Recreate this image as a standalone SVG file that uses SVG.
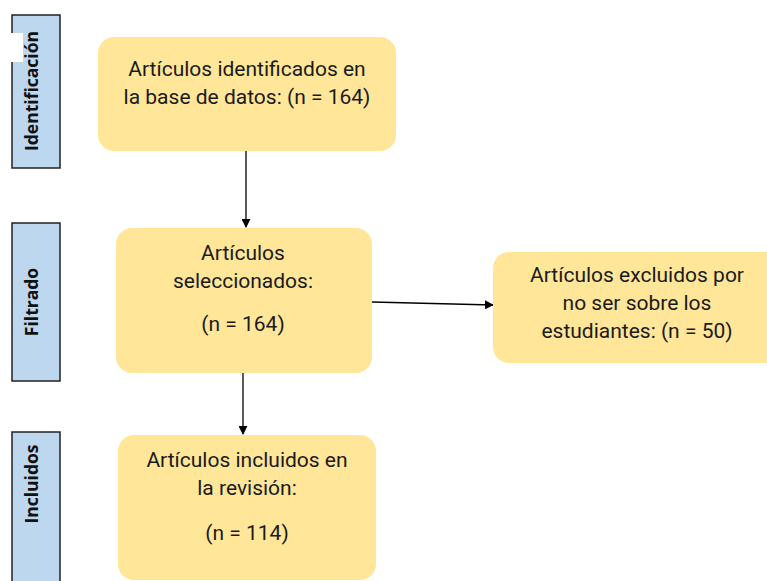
<svg xmlns="http://www.w3.org/2000/svg" width="767" height="581" viewBox="0 0 767 581">
<defs>
<marker id="ah" viewBox="0 0 10 10" refX="9" refY="5" markerWidth="9" markerHeight="9" markerUnits="userSpaceOnUse" orient="auto">
<path d="M0,0 L10,5 L0,10 z" fill="#000"/>
</marker>
<style>
.side{fill:#BDD7EE;stroke:#222;stroke-width:1.5}
.sidet{font-family:"Open Sans","Noto Sans",sans-serif;font-weight:bold;font-size:17.5px;fill:#111;text-anchor:middle}
.box{fill:#FFE699}
.t{font-family:Roboto,"Liberation Sans",sans-serif;font-size:21px;fill:#1a1a1a;text-anchor:middle}
.c{stroke:#000;stroke-width:1.3;fill:none;marker-end:url(#ah)}
</style>
</defs>
<rect width="767" height="581" fill="#fff"/>
<g id="side-identificacion">
<rect class="side" x="12" y="15" width="48" height="153"/>
<rect x="11" y="33" width="12" height="29" fill="#fff"/>
<text class="sidet" transform="translate(38,91) rotate(-90)">Identificación</text>
</g>
<g id="side-filtrado">
<rect class="side" x="12" y="223" width="48" height="158"/>
<text class="sidet" transform="translate(38,302) rotate(-90)">Filtrado</text>
</g>
<g id="side-incluidos">
<rect class="side" x="12" y="432" width="48" height="160"/>
<text class="sidet" transform="translate(38,484) rotate(-90)">Incluidos</text>
</g>
<g id="connectors">
<line class="c" x1="246" y1="151" x2="246" y2="227"/>
<line class="c" x1="372" y1="302" x2="493" y2="305"/>
<line class="c" x1="243" y1="373" x2="243" y2="434"/>
</g>
<g id="n1">
<rect class="box" x="98" y="37" width="298" height="114" rx="16"/>
<text class="t" x="247" y="76">Artículos identificados en</text>
<text class="t" x="247" y="104">la base de datos: (n = 164)</text>
</g>
<g id="n2">
<rect class="box" x="116" y="228" width="256" height="145" rx="16"/>
<text class="t" x="243" y="260">Artículos</text>
<text class="t" x="243" y="288">seleccionados:</text>
<text class="t" x="243" y="331">(n = 164)</text>
</g>
<g id="n3">
<rect class="box" x="493" y="252" width="290" height="111" rx="16"/>
<text class="t" x="637" y="282">Artículos excluidos por</text>
<text class="t" x="637" y="310">no ser sobre los</text>
<text class="t" x="637" y="338">estudiantes: (n = 50)</text>
</g>
<g id="n4">
<rect class="box" x="118" y="435" width="258" height="145" rx="16"/>
<text class="t" x="247" y="467">Artículos incluidos en</text>
<text class="t" x="247" y="495">la revisión:</text>
<text class="t" x="247" y="540">(n = 114)</text>
</g>
</svg>
